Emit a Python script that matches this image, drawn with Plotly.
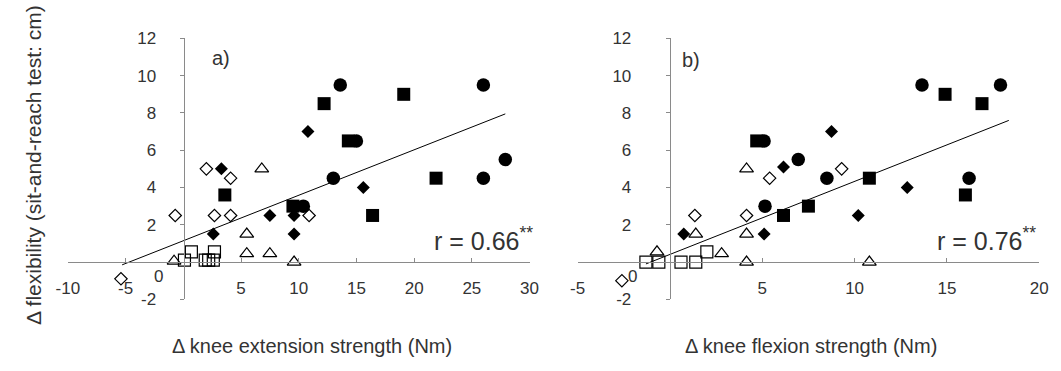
import plotly.graph_objects as go

# ---------------- data ----------------
# Panel a: knee extension strength change (Nm) vs flexibility change (cm)
a_circle_x = [13.6, 26.0, 15.0, 13.0, 26.0, 27.9, 10.4]
a_circle_y = [9.5, 9.5, 6.5, 4.5, 4.5, 5.5, 3.0]
a_square_x = [3.6, 12.2, 19.1, 14.3, 21.9, 16.4, 9.5]
a_square_y = [3.6, 8.5, 9.0, 6.5, 4.5, 2.5, 3.0]
a_diamond_x = [3.3, 2.6, 7.5, 9.6, 9.6, 10.8, 15.6]
a_diamond_y = [5.0, 1.5, 2.5, 2.5, 1.5, 7.0, 4.0]
a_odiamond_x = [-5.4, -0.7, 2.0, 4.1, 2.7, 4.1, 10.9]
a_odiamond_y = [-0.9, 2.5, 5.0, 4.5, 2.5, 2.5, 2.5]
a_otri_x = [6.8, 5.5, 5.5, 7.5, 9.6, -0.8]
a_otri_y = [5.0, 1.5, 0.45, 0.45, 0.0, 0.05]
a_osquare_x = [0.1, 0.7, 1.9, 2.2, 2.6, 2.7]
a_osquare_y = [0.1, 0.55, 0.1, 0.1, 0.1, 0.55]
a_fit_x = [-5.3, 27.9]
a_fit_y = [-0.15, 7.95]
a_r_text = "r = 0.66<sup>**</sup>"

# Panel b: knee flexion strength change (Nm) vs flexibility change (cm)
b_circle_x = [13.65, 17.9, 5.1, 6.95, 8.5, 16.2, 5.15]
b_circle_y = [9.5, 9.5, 6.5, 5.5, 4.5, 4.5, 3.0]
b_square_x = [4.7, 14.9, 16.9, 10.8, 16.0, 6.15, 7.5]
b_square_y = [6.5, 9.0, 8.5, 4.5, 3.6, 2.5, 3.0]
b_diamond_x = [6.15, 0.75, 5.1, 8.75, 12.85, 10.2]
b_diamond_y = [5.1, 1.5, 1.5, 7.0, 4.0, 2.5]
b_odiamond_x = [-2.6, 1.35, 4.15, 5.4, 9.3]
b_odiamond_y = [-1.0, 2.5, 2.5, 4.5, 5.0]
b_otri_x = [4.15, 1.4, 4.15, -0.7, 2.8, 4.15, 10.8]
b_otri_y = [5.0, 1.5, 1.5, 0.55, 0.45, 0.0, 0.0]
b_osquare_x = [-1.3, -0.6, 0.6, 1.4, 2.0]
b_osquare_y = [0.0, 0.0, 0.0, 0.0, 0.55]
b_fit_x = [-1.3, 18.35]
b_fit_y = [-0.1, 7.6]
b_r_text = "r = 0.76<sup>**</sup>"

a_xticks = [-10, -5, 5, 10, 15, 20, 25, 30]
b_xticks = [-5, 5, 10, 15, 20]
y_ticks = [-2, 2, 4, 6, 8, 10, 12]

x_title_a = "Δ knee extension strength (Nm)"
x_title_b = "Δ knee flexion strength (Nm)"
y_title = "Δ flexibility (sit-and-reach test: cm)"

# ---------------- figure ----------------
W, H = 1061, 371
FONT = "Liberation Sans, Arial, sans-serif"
TXT = "#333333"
AXC = "#8a8a8a"

fig = go.Figure()

def add_panel(xa, ya, cx, cy, sx, sy, dx, dy, odx, ody, tx, ty, qx, qy, fx, fy):
    fig.add_trace(go.Scatter(x=fx, y=fy, mode="lines", line=dict(color="black", width=1),
                             xaxis=xa, yaxis=ya, showlegend=False, hoverinfo="skip"))
    common = dict(mode="markers", xaxis=xa, yaxis=ya, showlegend=False, cliponaxis=False)
    fig.add_trace(go.Scatter(x=qx, y=qy, marker=dict(symbol="square-open", size=12, color="black",
                             line=dict(width=1.2, color="black")), **common))
    fig.add_trace(go.Scatter(x=tx, y=ty, marker=dict(symbol="triangle-up-open", size=12, color="black",
                             line=dict(width=1.2, color="black")), **common))
    fig.add_trace(go.Scatter(x=odx, y=ody, marker=dict(symbol="diamond-open", size=9.5, color="black",
                             line=dict(width=1.2, color="black")), **common))
    fig.add_trace(go.Scatter(x=dx, y=dy, marker=dict(symbol="diamond", size=10, color="black"), **common))
    fig.add_trace(go.Scatter(x=sx, y=sy, marker=dict(symbol="square", size=13, color="black"), **common))
    fig.add_trace(go.Scatter(x=cx, y=cy, marker=dict(symbol="circle", size=13.5, color="black"), **common))

add_panel("x", "y", a_circle_x, a_circle_y, a_square_x, a_square_y, a_diamond_x, a_diamond_y,
          a_odiamond_x, a_odiamond_y, a_otri_x, a_otri_y, a_osquare_x, a_osquare_y, a_fit_x, a_fit_y)
add_panel("x2", "y2", b_circle_x, b_circle_y, b_square_x, b_square_y, b_diamond_x, b_diamond_y,
          b_odiamond_x, b_odiamond_y, b_otri_x, b_otri_y, b_osquare_x, b_osquare_y, b_fit_x, b_fit_y)

ydom = [1 - 306 / H, 1 - 31 / H]
xpos_zero = 1 - 267 / H

def xaxis(dom, rng, ticks):
    return dict(domain=dom, range=rng, anchor="free", position=xpos_zero, showline=True,
                linecolor=AXC, linewidth=1, ticks="inside", ticklen=4, tickcolor=AXC,
                tickvals=ticks, ticktext=[str(t) for t in ticks], showgrid=False, zeroline=False,
                ticklabelstandoff=10, tickfont=dict(family=FONT, size=17, color=TXT))

def yaxis(pos, rng, standoff):
    return dict(domain=ydom, range=rng, anchor="free", position=pos, showline=True,
                linecolor=AXC, linewidth=1, ticks="outside", ticklen=4, tickcolor=AXC,
                tickvals=y_ticks, ticktext=[str(t) for t in y_ticks], showgrid=False, zeroline=False,
                ticklabelstandoff=standoff, tickfont=dict(family=FONT, size=17, color=TXT))

fig.update_layout(
    width=W, height=H, margin=dict(l=0, r=0, t=0, b=0),
    paper_bgcolor="white", plot_bgcolor="white",
    xaxis=xaxis([57 / W, 528 / W], [-10, 30], a_xticks),
    yaxis=yaxis(175 / W, [-2, 12], 20),
    xaxis2=xaxis([577 / W, 1048 / W], [-5, 20], b_xticks),
    yaxis2=yaxis(671 / W, [-2, 12], 31),
)

ann = []
def txt(x, y, t, size, xanchor="center", yanchor="middle", textangle=0):
    ann.append(dict(x=x, y=y, xref="paper", yref="paper", text=t, showarrow=False,
                    xanchor=xanchor, yanchor=yanchor, textangle=textangle,
                    font=dict(family=FONT, size=size, color=TXT)))

# zero labels of the y axes (sit slightly below the crossing)
txt(156 / W, 1 - 282 / H, "0", 17, xanchor="right")
txt(640 / W, 1 - 282 / H, "0", 17, xanchor="right")
# panel letters
txt(213 / W, 1 - 52 / H, "a)", 20)
txt(693 / W, 1 - 54 / H, "b)", 20)
# correlation labels
txt(534 / W, 1 - 242 / H, a_r_text, 25, xanchor="right")
txt(1047 / W, 1 - 242 / H, b_r_text, 25, xanchor="right")
# axis titles
txt(306 / W, 1 - 355 / H, x_title_a, 20)
txt(815 / W, 1 - 355 / H, x_title_b, 20)
txt(22 / W, 1 - 165 / H, y_title, 21, textangle=-90)

fig.update_layout(annotations=ann)
fig.write_html("out.html")
